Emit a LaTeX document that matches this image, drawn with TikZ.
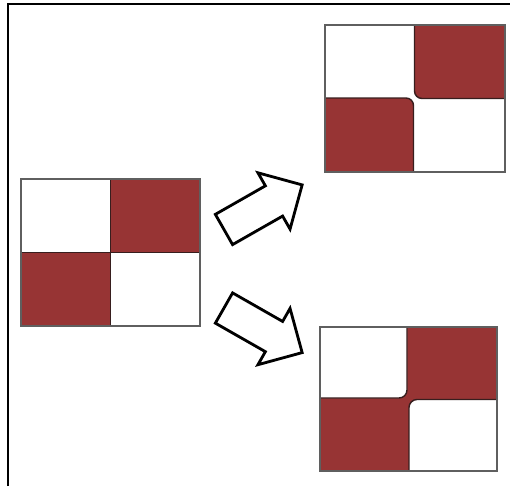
\documentclass[tikz,border=0pt]{standalone}
\usepackage{tikz}
\usetikzlibrary{shapes.arrows,positioning}
\definecolor{tilered}{RGB}{151,52,52}
\definecolor{edgedark}{RGB}{55,30,30}
\definecolor{framegray}{RGB}{95,95,95}

\begin{document}
\begin{tikzpicture}[
	board/.style={
		rectangle,
		draw=framegray,
		line width=1.1pt,
		inner sep=0pt
	},
	redtile/.style={
		fill=tilered,
		draw=edgedark,
		line width=0.8pt
	},
	whitetile/.style={
		fill=white,
		draw=edgedark,
		line width=0.8pt
	},
	movearrow/.style={
		single arrow,
		draw=black,
		fill=white,
		line width=1.6pt,
		inner xsep=0pt,
		inner ysep=0.32cm,
		single arrow head extend=0.3cm,
		single arrow tip angle=90,
		minimum height=1.8cm
	}
	]
	
	\useasboundingbox (0,0) rectangle (10.2,9.72);
	
	% Frame
	\draw[line width=1.1pt] (0.16,0) -- (0.16,9.64) -- (10.2,9.64);
	
	% Start board
	\fill[tilered] (2.21,4.67) rectangle (4.0,6.14);
	\fill[tilered] (0.42,3.2) rectangle (2.21,4.67);
	\draw[edgedark, line width=0.8pt] (2.21,3.2) -- (2.21,6.14);
	\draw[edgedark, line width=0.8pt] (0.42,4.67) -- (4.0,4.67);
	\node[board, minimum width=3.58cm, minimum height=2.94cm] (start) at (2.21,4.67) {};
	
	% Upper board - red tiles apart
	\filldraw[redtile] (8.29,9.22) -- (10.1,9.22) -- (10.1,7.75) -- (8.44,7.75) arc[start angle=270, end angle=180, radius=0.15] -- cycle;
	\filldraw[redtile] (6.5,6.28) -- (6.5,7.76) -- (8.12,7.76) arc[start angle=90, end angle=0, radius=0.15] -- (8.27,6.28) -- cycle;
	\node[board, minimum width=3.6cm, minimum height=2.94cm] (apart) at (8.3,7.75) {};
	
	% Lower board - red tiles joined
	\fill[tilered] (6.4,0.3) rectangle (9.94,3.18);
	\filldraw[whitetile] (6.4,3.18) -- (8.14,3.18) -- (8.14,1.92) arc[start angle=0, end angle=-90, radius=0.16] -- (6.4,1.76) -- cycle;
	\filldraw[whitetile] (9.94,0.3) -- (8.18,0.3) -- (8.18,1.57) arc[start angle=180, end angle=90, radius=0.16] -- (9.94,1.73) -- cycle;
	\node[board, minimum width=3.54cm, minimum height=2.88cm] (joined) at (8.17,1.74) {};
	
	% Arrows
	\node[movearrow, rotate=29.7] (toapart) at (5.11,5.49) {};
	\node[movearrow, rotate=-29.7] (tojoined) at (5.11,3.2) {};
	
\end{tikzpicture}
\end{document}
